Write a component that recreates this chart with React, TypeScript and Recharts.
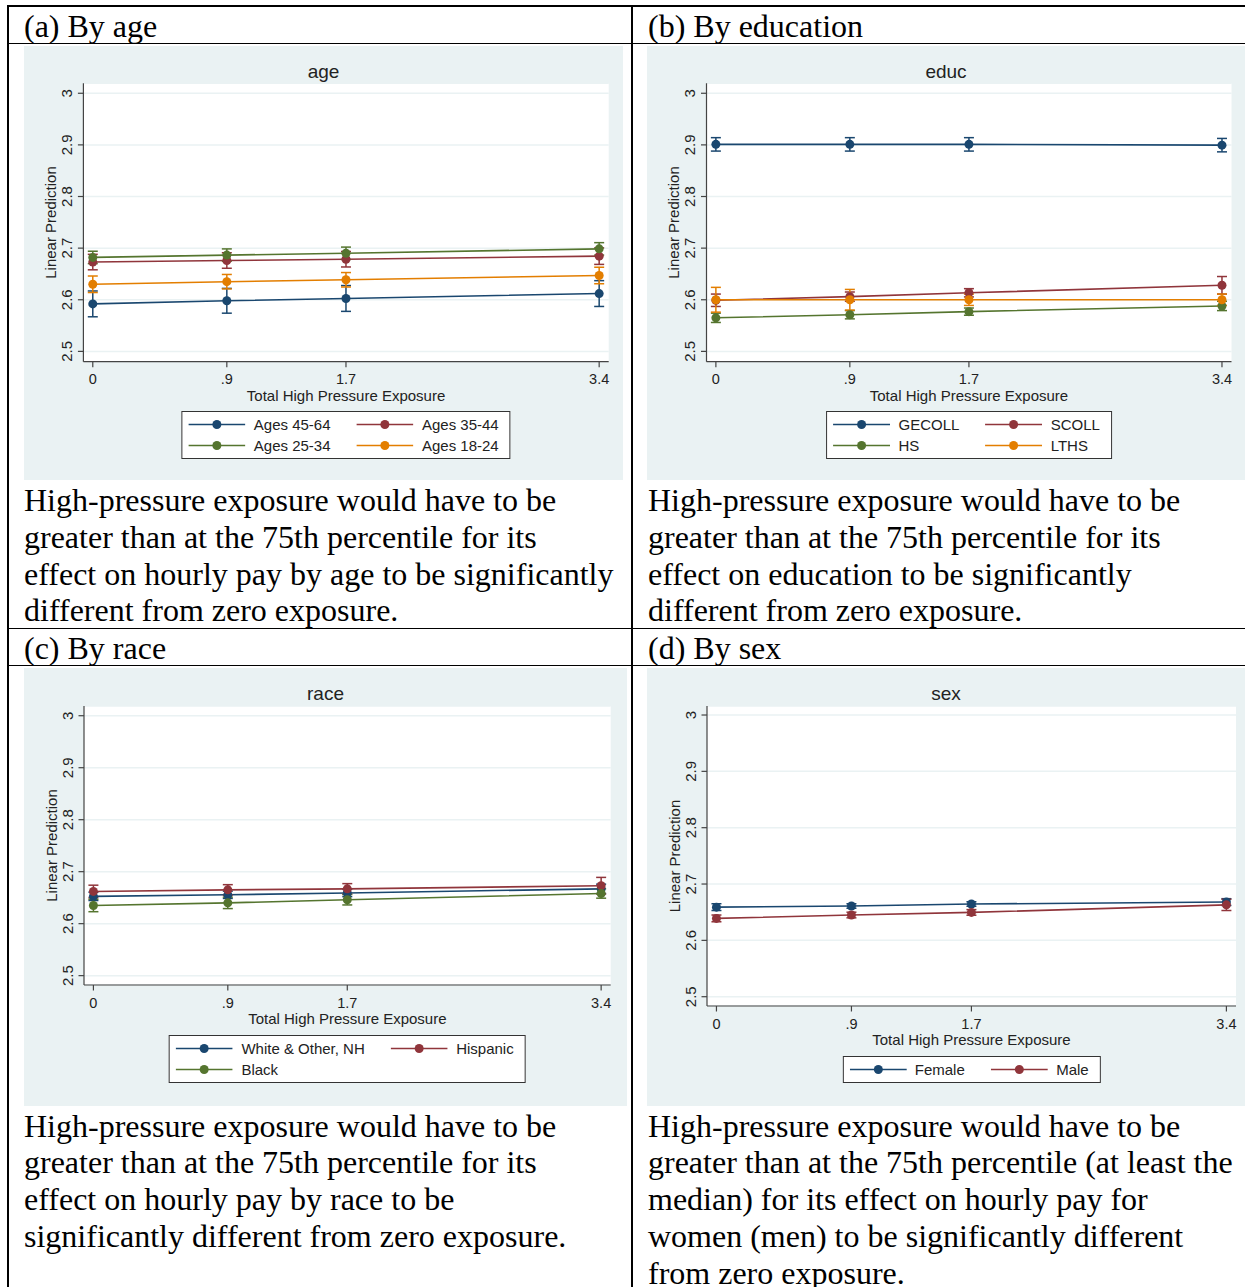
import React from "react";
import { LineChart, Line, XAxis, YAxis, CartesianGrid, ErrorBar } from "recharts";

const SANS = "'Liberation Sans', Arial, sans-serif";
const SERIF = "'Liberation Serif', 'Times New Roman', serif";

const NAVY = "#1a476f";
const MAROON = "#90353b";
const GREEN = "#55752f";
const ORANGE = "#e37e00";

// x positions (total high pressure exposure) and y ticks
const exposure = [0, 0.9, 1.7, 3.4];
const yTicks = [2.5, 2.6, 2.7, 2.8, 2.9, 3];

// (a) by age
const ageLabels = ["Ages 45-64", "Ages 35-44", "Ages 25-34", "Ages 18-24"];
const age4564 = [2.592, 2.598, 2.6025, 2.612];
const age4564Ci = [0.025, 0.024, 0.025, 0.025];
const age3544 = [2.673, 2.676, 2.6785, 2.6845];
const age3544Ci = [0.015, 0.015, 0.015, 0.016];
const age2534 = [2.682, 2.6865, 2.69, 2.6986];
const age2534Ci = [0.012, 0.012, 0.012, 0.012];
const age1824 = [2.63, 2.635, 2.6387, 2.647];
const age1824Ci = [0.016, 0.014, 0.014, 0.016];

// (b) by education
const educLabels = ["GECOLL", "SCOLL", "HS", "LTHS"];
const gecoll = [2.901, 2.901, 2.901, 2.8995];
const gecollCi = [0.013, 0.013, 0.013, 0.013];
const scoll = [2.599, 2.606, 2.6135, 2.628];
const scollCi = [0.012, 0.009, 0.008, 0.017];
const hs = [2.565, 2.571, 2.577, 2.588];
const hsCi = [0.009, 0.008, 0.007, 0.009];
const lths = [2.6, 2.6, 2.6, 2.6];
const lthsCi = [0.024, 0.02, 0.011, 0.011];

// (c) by race
const raceLabels = ["White & Other, NH", "Hispanic", "Black"];
const white = [2.6525, 2.6555, 2.659, 2.667];
const whiteCi = [0.008, 0.007, 0.007, 0.009];
const hispanic = [2.662, 2.665, 2.667, 2.673];
const hispanicCi = [0.012, 0.01, 0.01, 0.016];
const black = [2.635, 2.64, 2.646, 2.658];
const blackCi = [0.012, 0.011, 0.01, 0.009];

// (d) by sex
const sexLabels = ["Female", "Male"];
const female = [2.659, 2.661, 2.6645, 2.668];
const femaleCi = [0.006, 0.004, 0.004, 0.006];
const male = [2.639, 2.645, 2.6496, 2.663];
const maleCi = [0.006, 0.005, 0.005, 0.01];

const headers = ["(a) By age", "(b) By education", "(c) By race", "(d) By sex"];
const notes = [
  [
    "High-pressure exposure would have to be",
    "greater than at the 75th percentile for its",
    "effect on hourly pay by age to be significantly",
    "different from zero exposure.",
  ],
  [
    "High-pressure exposure would have to be",
    "greater than at the 75th percentile for its",
    "effect on education to be significantly",
    "different from zero exposure.",
  ],
  [
    "High-pressure exposure would have to be",
    "greater than at the 75th percentile for its",
    "effect on hourly pay by race to be",
    "significantly different from zero exposure.",
  ],
  [
    "High-pressure exposure would have to be",
    "greater than at the 75th percentile (at least the",
    "median) for its effect on hourly pay for",
    "women (men) to be significantly different",
    "from zero exposure.",
  ],
];

type Series = { name: string; color: string; values: number[]; errors: number[] };

const ageSeries: Series[] = [
  { name: ageLabels[0], color: NAVY, values: age4564, errors: age4564Ci },
  { name: ageLabels[1], color: MAROON, values: age3544, errors: age3544Ci },
  { name: ageLabels[2], color: GREEN, values: age2534, errors: age2534Ci },
  { name: ageLabels[3], color: ORANGE, values: age1824, errors: age1824Ci },
];
const educSeries: Series[] = [
  { name: educLabels[0], color: NAVY, values: gecoll, errors: gecollCi },
  { name: educLabels[1], color: MAROON, values: scoll, errors: scollCi },
  { name: educLabels[2], color: GREEN, values: hs, errors: hsCi },
  { name: educLabels[3], color: ORANGE, values: lths, errors: lthsCi },
];
const raceSeries: Series[] = [
  { name: raceLabels[0], color: NAVY, values: white, errors: whiteCi },
  { name: raceLabels[1], color: MAROON, values: hispanic, errors: hispanicCi },
  { name: raceLabels[2], color: GREEN, values: black, errors: blackCi },
];
const sexSeries: Series[] = [
  { name: sexLabels[0], color: NAVY, values: female, errors: femaleCi },
  { name: sexLabels[1], color: MAROON, values: male, errors: maleCi },
];

const fmtX = (v: number) => (v === 0 ? "0" : String(v).replace(/^0\./, "."));
const AXIS = "#444";
const TXT = "#222";
const FS = 15;

function XTick(props: any) {
  const { x, y, payload } = props;
  return (
    <text x={x} y={y + 12} textAnchor="middle" dominantBaseline="central" fontSize={14.5} fontFamily={SANS} fill={TXT}>
      {fmtX(payload.value)}
    </text>
  );
}

function YTick(props: any) {
  const { x, y, payload } = props;
  const cx = x - 11.4;
  return (
    <text
      x={cx}
      y={y}
      transform={`rotate(-90 ${cx} ${y})`}
      textAnchor="middle"
      dominantBaseline="central"
      fontSize={FS}
      fontFamily={SANS}
      fill={TXT}
    >
      {String(payload.value)}
    </text>
  );
}

function XTitle(props: any) {
  const vb = props.viewBox || {};
  return (
    <text x={vb.x + vb.width / 2} y={vb.y + 33.5} textAnchor="middle" dominantBaseline="central" fontSize={FS} fontFamily={SANS} fill={TXT}>
      Total High Pressure Exposure
    </text>
  );
}

function YTitle(props: any) {
  const vb = props.viewBox || {};
  const cx = vb.x + vb.width - 32.6;
  const cy = vb.y + vb.height / 2;
  return (
    <text x={cx} y={cy} transform={`rotate(-90 ${cx} ${cy})`} textAnchor="middle" dominantBaseline="central" fontSize={FS} fontFamily={SANS} fill={TXT}>
      Linear Prediction
    </text>
  );
}

function Legend({ series, cols }: { series: Series[]; cols: number }) {
  return (
    <div
      style={{
        display: "grid",
        gridTemplateColumns: `repeat(${cols}, auto)`,
        columnGap: 26,
        background: "#fff",
        border: "1.5px solid #333",
        padding: "2px 11px 2px 6px",
        fontFamily: SANS,
        fontSize: FS,
        color: TXT,
        whiteSpace: "nowrap",
      }}
    >
      {series.map((s) => (
        <div key={s.name} style={{ display: "flex", alignItems: "center", height: 21 }}>
          <svg width={57} height={21} style={{ display: "block" }}>
            <line x1={0} y1={10.5} x2={57} y2={10.5} stroke={s.color} strokeWidth={1.6} />
            <circle cx={28.5} cy={10.5} r={4.5} fill={s.color} />
          </svg>
          <span style={{ marginLeft: 8.4 }}>{s.name}</span>
        </div>
      ))}
    </div>
  );
}

type PanelProps = {
  left: number;
  top: number;
  width: number;
  height: number;
  title: string;
  series: Series[];
  plot: { l: number; t: number; r: number; b: number };
  yDomain: [number, number];
  cols: number;
};

function Panel({ left, top, width, height, title, series, plot, yDomain, cols }: PanelProps) {
  const rows = exposure.map((x, i) => {
    const row: any = { x };
    series.forEach((s, k) => {
      row["v" + k] = s.values[i];
      row["e" + k] = s.errors[i];
    });
    return row;
  });
  const xAxisH = 40;
  return (
    <div style={{ position: "absolute", left, top, width, height, background: "#eaf2f3" }}>
      <div
        style={{
          position: "absolute",
          top: 14,
          left: 0,
          width: "100%",
          textAlign: "center",
          lineHeight: "24px",
          fontFamily: SANS,
          fontSize: 19,
          color: TXT,
        }}
      >
        {title}
      </div>
      <div style={{ position: "absolute", left: 0, top: 0 }}>
        <LineChart
          width={width}
          height={height}
          data={rows}
          margin={{ top: plot.t, right: width - plot.r, left: 0, bottom: height - plot.b - xAxisH }}
        >
          <CartesianGrid vertical={false} stroke="#eaf2f3" strokeWidth={1.5} fill="#fff" />
          <XAxis
            dataKey="x"
            type="number"
            domain={[-0.063, 3.464]}
            ticks={exposure}
            interval={0}
            allowDataOverflow
            height={xAxisH}
            tickSize={5.5}
            tickMargin={0}
            axisLine={{ stroke: AXIS, strokeWidth: 1.2 }}
            tickLine={{ stroke: AXIS, strokeWidth: 1.2 }}
            tick={<XTick />}
            label={<XTitle />}
          />
          <YAxis
            type="number"
            domain={yDomain}
            ticks={yTicks}
            interval={0}
            allowDataOverflow
            width={plot.l}
            tickSize={5.5}
            tickMargin={0}
            axisLine={{ stroke: AXIS, strokeWidth: 1.2 }}
            tickLine={{ stroke: AXIS, strokeWidth: 1.2 }}
            tick={<YTick />}
            label={<YTitle />}
          />
          {series.map((s, k) => (
            <Line
              key={s.name}
              dataKey={"v" + k}
              type="linear"
              stroke={s.color}
              strokeWidth={1.6}
              dot={{ r: 4.5, fill: s.color, stroke: s.color, strokeWidth: 0 }}
              activeDot={false}
              isAnimationActive={false}
            >
              <ErrorBar dataKey={"e" + k} direction="y" width={5} stroke={s.color} strokeWidth={1.5} isAnimationActive={false} />
            </Line>
          ))}
        </LineChart>
      </div>
      <div
        style={{
          position: "absolute",
          top: plot.b + 49.5,
          left: (plot.l + plot.r) / 2,
          transform: "translateX(-50%)",
        }}
      >
        <Legend series={series} cols={cols} />
      </div>
    </div>
  );
}

function Rule({ x, y, w, h }: { x: number; y: number; w: number; h: number }) {
  return <div style={{ position: "absolute", left: x, top: y, width: w, height: h, background: "#000" }} />;
}

function Cell({ x, y, lines }: { x: number; y: number; lines: string[] }) {
  return (
    <div
      style={{
        position: "absolute",
        left: x,
        top: y,
        fontFamily: SERIF,
        fontSize: 32,
        lineHeight: "36.8px",
        color: "#000",
        whiteSpace: "nowrap",
      }}
    >
      {lines.map((l, i) => (
        <div key={i}>{l}</div>
      ))}
    </div>
  );
}

export default function App() {
  return (
    <div style={{ position: "absolute", left: 0, top: 0, width: 1245, height: 1287, overflow: "hidden", background: "#fff" }}>
      {/* table rules */}
      <Rule x={7} y={5} w={1238} h={1.5} />
      <Rule x={7} y={42.5} w={1238} h={1.5} />
      <Rule x={7} y={627.5} w={1238} h={1.5} />
      <Rule x={7} y={664.5} w={1238} h={1.5} />
      <Rule x={7} y={5} w={1.5} h={1282} />
      <Rule x={631} y={5} w={1.5} h={1282} />

      <Cell x={24} y={7.5} lines={[headers[0]]} />
      <Cell x={648} y={7.5} lines={[headers[1]]} />
      <Cell x={24} y={630} lines={[headers[2]]} />
      <Cell x={648} y={630} lines={[headers[3]]} />

      <Panel
        left={24}
        top={46}
        width={599}
        height={434}
        title="age"
        series={ageSeries}
        plot={{ l: 59.4, t: 37.3, r: 584.7, b: 315.7 }}
        yDomain={[2.48, 3.0193]}
        cols={2}
      />
      <Panel
        left={647}
        top={46}
        width={598}
        height={434}
        title="educ"
        series={educSeries}
        plot={{ l: 59.5, t: 37.3, r: 584.5, b: 315.7 }}
        yDomain={[2.48, 3.0193]}
        cols={2}
      />
      <Panel
        left={24}
        top={668}
        width={603}
        height={438}
        title="race"
        series={raceSeries}
        plot={{ l: 60, t: 38, r: 586.7, b: 317 }}
        yDomain={[2.482, 3.0187]}
        cols={2}
      />
      <Panel
        left={647}
        top={668}
        width={598}
        height={438}
        title="sex"
        series={sexSeries}
        plot={{ l: 60, t: 38, r: 589, b: 338 }}
        yDomain={[2.4835, 3.016]}
        cols={2}
      />

      <Cell x={24} y={482} lines={notes[0]} />
      <Cell x={648} y={482} lines={notes[1]} />
      <Cell x={24} y={1107.7} lines={notes[2]} />
      <Cell x={648} y={1107.7} lines={notes[3]} />
    </div>
  );
}
